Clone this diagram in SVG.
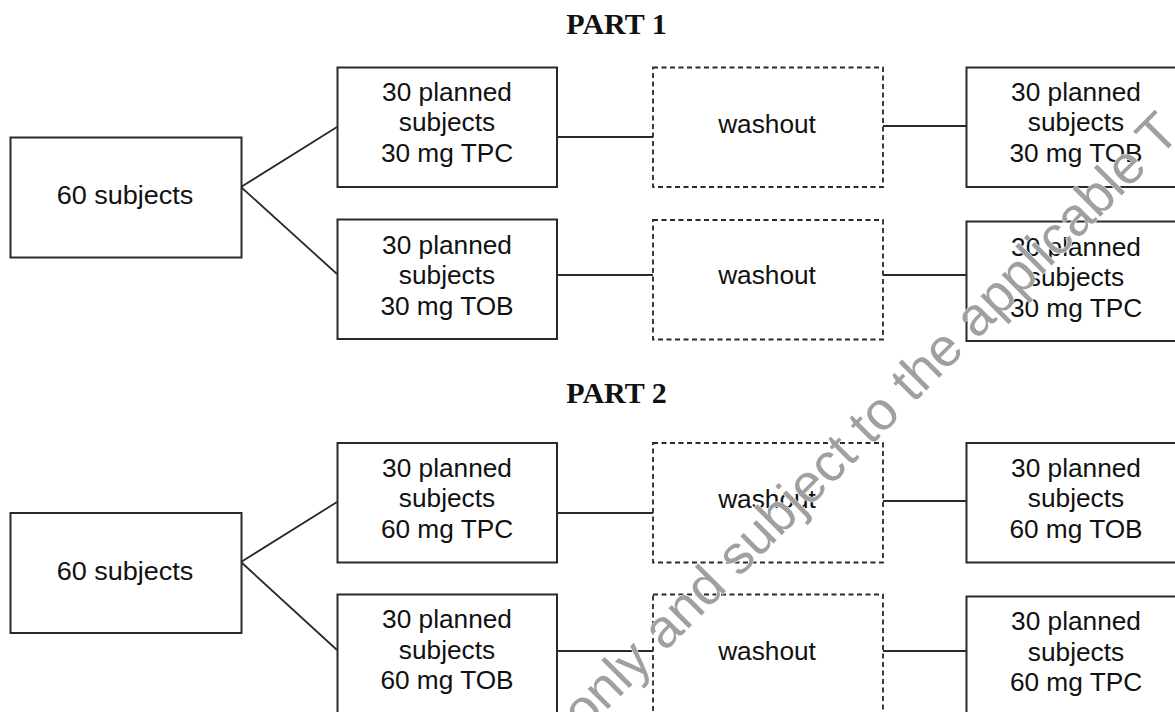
<svg xmlns="http://www.w3.org/2000/svg" width="1175" height="712" viewBox="0 0 1175 712">
<style>
.box{fill:#fff;stroke:#2a2a2a;stroke-width:2}
.wash{fill:#fff;stroke:#2a2a2a;stroke-width:1.8;stroke-dasharray:5 3.5}
.con{stroke:#2a2a2a;stroke-width:1.8;fill:none}
.t{font-family:"Liberation Sans",Arial,sans-serif;font-size:25px;fill:#111;text-anchor:middle}
.h{font-family:"Liberation Serif","Times New Roman",serif;font-size:30px;font-weight:bold;fill:#111;text-anchor:middle}
.wm{font-family:"Liberation Sans",Arial,sans-serif;font-size:54px;fill:#a0a0a0;stroke:#fff;stroke-width:1;paint-order:stroke}
</style>
<rect width="1175" height="712" fill="#fff"/>
<text class="h" x="616.5" y="33.5">PART 1</text>
<text class="h" x="616.5" y="403">PART 2</text>
<g id="connectors">
<path class="con" d="M241,187 L337,127 M241,187 L337,274"/>
<path class="con" d="M557,137 H653 M883,126 H966"/>
<path class="con" d="M557,275 H653 M883,275 H966"/>
<path class="con" d="M241,562 L337,502 M241,562 L337,650"/>
<path class="con" d="M557,513 H653 M883,501 H966"/>
<path class="con" d="M557,651 H653 M883,651 H966"/>
</g>
<g id="p1-start"><rect class="box" x="10.5" y="137.5" width="231" height="120"/><text class="t" transform="translate(125 0) scale(1.04 1)" x="0" y="204" style="font-size:26px">60 subjects</text></g>
<g id="p1-a1"><rect class="box" x="337.5" y="67.5" width="219.5" height="119.5"/>
<g transform="translate(447 0) scale(1.05 1)"><text class="t" x="0" y="101">30 planned</text><text class="t" x="0" y="131.5">subjects</text><text class="t" x="0" y="162">30 mg TPC</text></g></g>
<g id="p1-b1"><rect class="box" x="337.5" y="219.5" width="219.5" height="119.5"/>
<g transform="translate(447 0) scale(1.05 1)"><text class="t" x="0" y="254">30 planned</text><text class="t" x="0" y="284.5">subjects</text><text class="t" x="0" y="315">30 mg TOB</text></g></g>
<g id="p1-w1"><rect class="wash" x="653" y="67.5" width="230" height="119.5"/><text class="t" transform="translate(767 0) scale(1.05 1)" x="0" y="133.3">washout</text></g>
<g id="p1-w2"><rect class="wash" x="653" y="220" width="230" height="119.5"/><text class="t" transform="translate(767 0) scale(1.05 1)" x="0" y="284.5">washout</text></g>
<g id="p1-a2"><rect class="box" x="966.5" y="67.5" width="220" height="119.5"/>
<g transform="translate(1076 0) scale(1.05 1)"><text class="t" x="0" y="101">30 planned</text><text class="t" x="0" y="131.5">subjects</text><text class="t" x="0" y="162">30 mg TOB</text></g></g>
<g id="p1-b2"><rect class="box" x="966.5" y="221.5" width="220" height="119.5"/>
<g transform="translate(1076 0) scale(1.05 1)"><text class="t" x="0" y="256">30 planned</text><text class="t" x="0" y="286.5">subjects</text><text class="t" x="0" y="317">30 mg TPC</text></g></g>
<g id="p2-start"><rect class="box" x="10.5" y="513" width="231" height="120"/><text class="t" transform="translate(125 0) scale(1.04 1)" x="0" y="580" style="font-size:26px">60 subjects</text></g>
<g id="p2-a1"><rect class="box" x="337.5" y="443" width="219.5" height="119.5"/>
<g transform="translate(447 0) scale(1.05 1)"><text class="t" x="0" y="477">30 planned</text><text class="t" x="0" y="507.5">subjects</text><text class="t" x="0" y="538">60 mg TPC</text></g></g>
<g id="p2-b1"><rect class="box" x="337.5" y="594.5" width="219.5" height="130"/>
<g transform="translate(447 0) scale(1.05 1)"><text class="t" x="0" y="628.5">30 planned</text><text class="t" x="0" y="659">subjects</text><text class="t" x="0" y="689.5">60 mg TOB</text></g></g>
<g id="p2-w1"><rect class="wash" x="653" y="443" width="230" height="119.5"/><text class="t" transform="translate(767 0) scale(1.05 1)" x="0" y="508">washout</text></g>
<g id="p2-w2"><rect class="wash" x="653" y="594.5" width="230" height="130"/><text class="t" transform="translate(767 0) scale(1.05 1)" x="0" y="660">washout</text></g>
<g id="p2-a2"><rect class="box" x="966.5" y="443" width="220" height="119.5"/>
<g transform="translate(1076 0) scale(1.05 1)"><text class="t" x="0" y="477">30 planned</text><text class="t" x="0" y="507.5">subjects</text><text class="t" x="0" y="538">60 mg TOB</text></g></g>
<g id="p2-b2"><rect class="box" x="966.5" y="596.5" width="220" height="130"/>
<g transform="translate(1076 0) scale(1.05 1)"><text class="t" x="0" y="630.5">30 planned</text><text class="t" x="0" y="661">subjects</text><text class="t" x="0" y="691.5">60 mg TPC</text></g></g>
<text class="wm" transform="translate(584 733) rotate(-45)" x="0" y="0">only and subject to the applicable T</text>
</svg>
